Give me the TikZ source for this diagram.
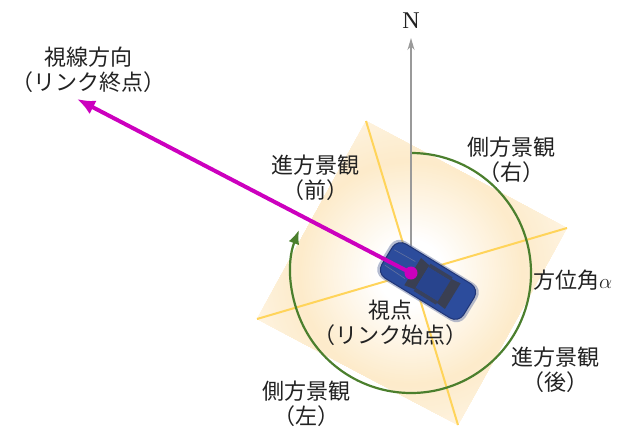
\documentclass[tikz,border=0pt]{standalone}
\usepackage{fontspec}
\setmainfont{Liberation Serif}
\newfontfamily\jp{Noto Sans CJK JP}
\usetikzlibrary{arrows.meta}

\definecolor{txt}{HTML}{222222}
\definecolor{glowcol}{HTML}{FDEBCB}
\definecolor{glowrim}{HTML}{FEF4E1}
\definecolor{axisyellow}{HTML}{FFD45A}
\definecolor{arcgreen}{HTML}{4B7F2D}
\definecolor{sightmag}{RGB}{204,0,190}
\definecolor{northgray}{HTML}{9A9A9A}
\definecolor{carblue}{HTML}{2C4C9C}
\definecolor{caredge}{HTML}{1F3577}
\definecolor{carglass}{HTML}{3A3F52}

\tikzset{
  label/.style={font=\jp\fontsize{22}{25}\selectfont, text=txt, align=center, inner sep=0pt},
  azimuth/.style={draw=arcgreen, line width=2.2pt, -{Latex[length=14pt,width=11pt]}},
  sight/.style={draw=sightmag, line width=4pt, -{Latex[length=18pt,width=15pt]}},
  north/.style={draw=northgray, line width=1.3pt, -{Stealth[length=12pt,width=7pt]}},
}

\begin{document}
\begin{tikzpicture}[x=1pt,y=-1pt]
\useasboundingbox (0,0) rectangle (634,429);

% viewpoint and rotated viewing square
\coordinate (c) at (411,273);
\coordinate (sqT) at (366,121);
\coordinate (sqR) at (567,228);
\coordinate (sqB) at (458,425);
\coordinate (sqL) at (257,319);

% radial glow inside the square
\begin{scope}
  \clip (sqT) -- (sqR) -- (sqB) -- (sqL) -- cycle;
  \fill[glowrim] (c) circle (170);
  \foreach \r in {166,164,...,114}{
    \pgfmathsetmacro\p{100*(166-\r)/52}
    \fill[glowcol!\p!glowrim] (c) circle (\r);
  }
  \foreach \r in {112,110,...,34}{
    \pgfmathsetmacro\p{100*(\r-34)/78}
    \fill[glowcol!\p!white] (c) circle (\r);
  }
\end{scope}

% diagonals of the viewing square
\draw[axisyellow, line width=2pt] (sqT) -- (sqB);
\draw[axisyellow, line width=2pt] (sqL) -- (sqR);

% azimuth arc, clockwise from north (y axis points down)
\draw[azimuth] ([shift={(-90:120)}]c) arc[start angle=-90, end angle=201, radius=120];

% north direction
\coordinate (ntip) at (411,38);
\draw[north] (c) -- (ntip);
\node[font=\fontsize{24}{24}\selectfont, text=txt, inner sep=0pt] (N) at (411,21) {N};

% car
\begin{scope}[shift={(428,281)}, rotate=-31.5]
  \fill[caredge!60!white, opacity=0.55, rounded corners=11] (-51,-22) rectangle (51,22);
  \fill[carblue, draw=caredge, line width=1pt, rounded corners=10] (-48,-20) rectangle (48,20);
  % windshield
  \fill[carglass] (-18,-16) -- (-7,-14) -- (-7,14) -- (-18,16) -- cycle;
  % roof with side windows
  \fill[carglass!85!carblue] (-7,-16) rectangle (19,-12);
  \fill[carglass!85!carblue] (-7,12) rectangle (19,16);
  \fill[carblue!90!black] (-7,-12) rectangle (19,12);
  % rear window
  \fill[carglass] (19,-14) -- (29,-15) -- (29,15) -- (19,14) -- cycle;
  % hood lines
  \draw[caredge!70!white, line width=0.6pt] (-45,-9) -- (-21,-10);
  \draw[caredge!70!white, line width=0.6pt] (-45,9) -- (-21,10);
\end{scope}

% line of sight
\coordinate (etip) at (77,99);
\draw[sight] (c) -- (etip);
\fill[sightmag] (c) circle (6.5);

% labels
\node[label] (endlbl) at (88,70) {視線方向\\（リンク終点）};
\node[label] (frontlbl) at (315,178) {進方景観\\（前）};
\node[label] (rightlbl) at (511,160) {側方景観\\（右）};
\node[label, anchor=west] (azlbl) at (533,280) {方位角$\alpha$};
\node[label] (startlbl) at (390,323) {視点\\（リンク始点）};
\node[label] (backlbl) at (555,370) {進方景観\\（後）};
\node[label] (leftlbl) at (306,404) {側方景観\\（左）};
\end{tikzpicture}
\end{document}
